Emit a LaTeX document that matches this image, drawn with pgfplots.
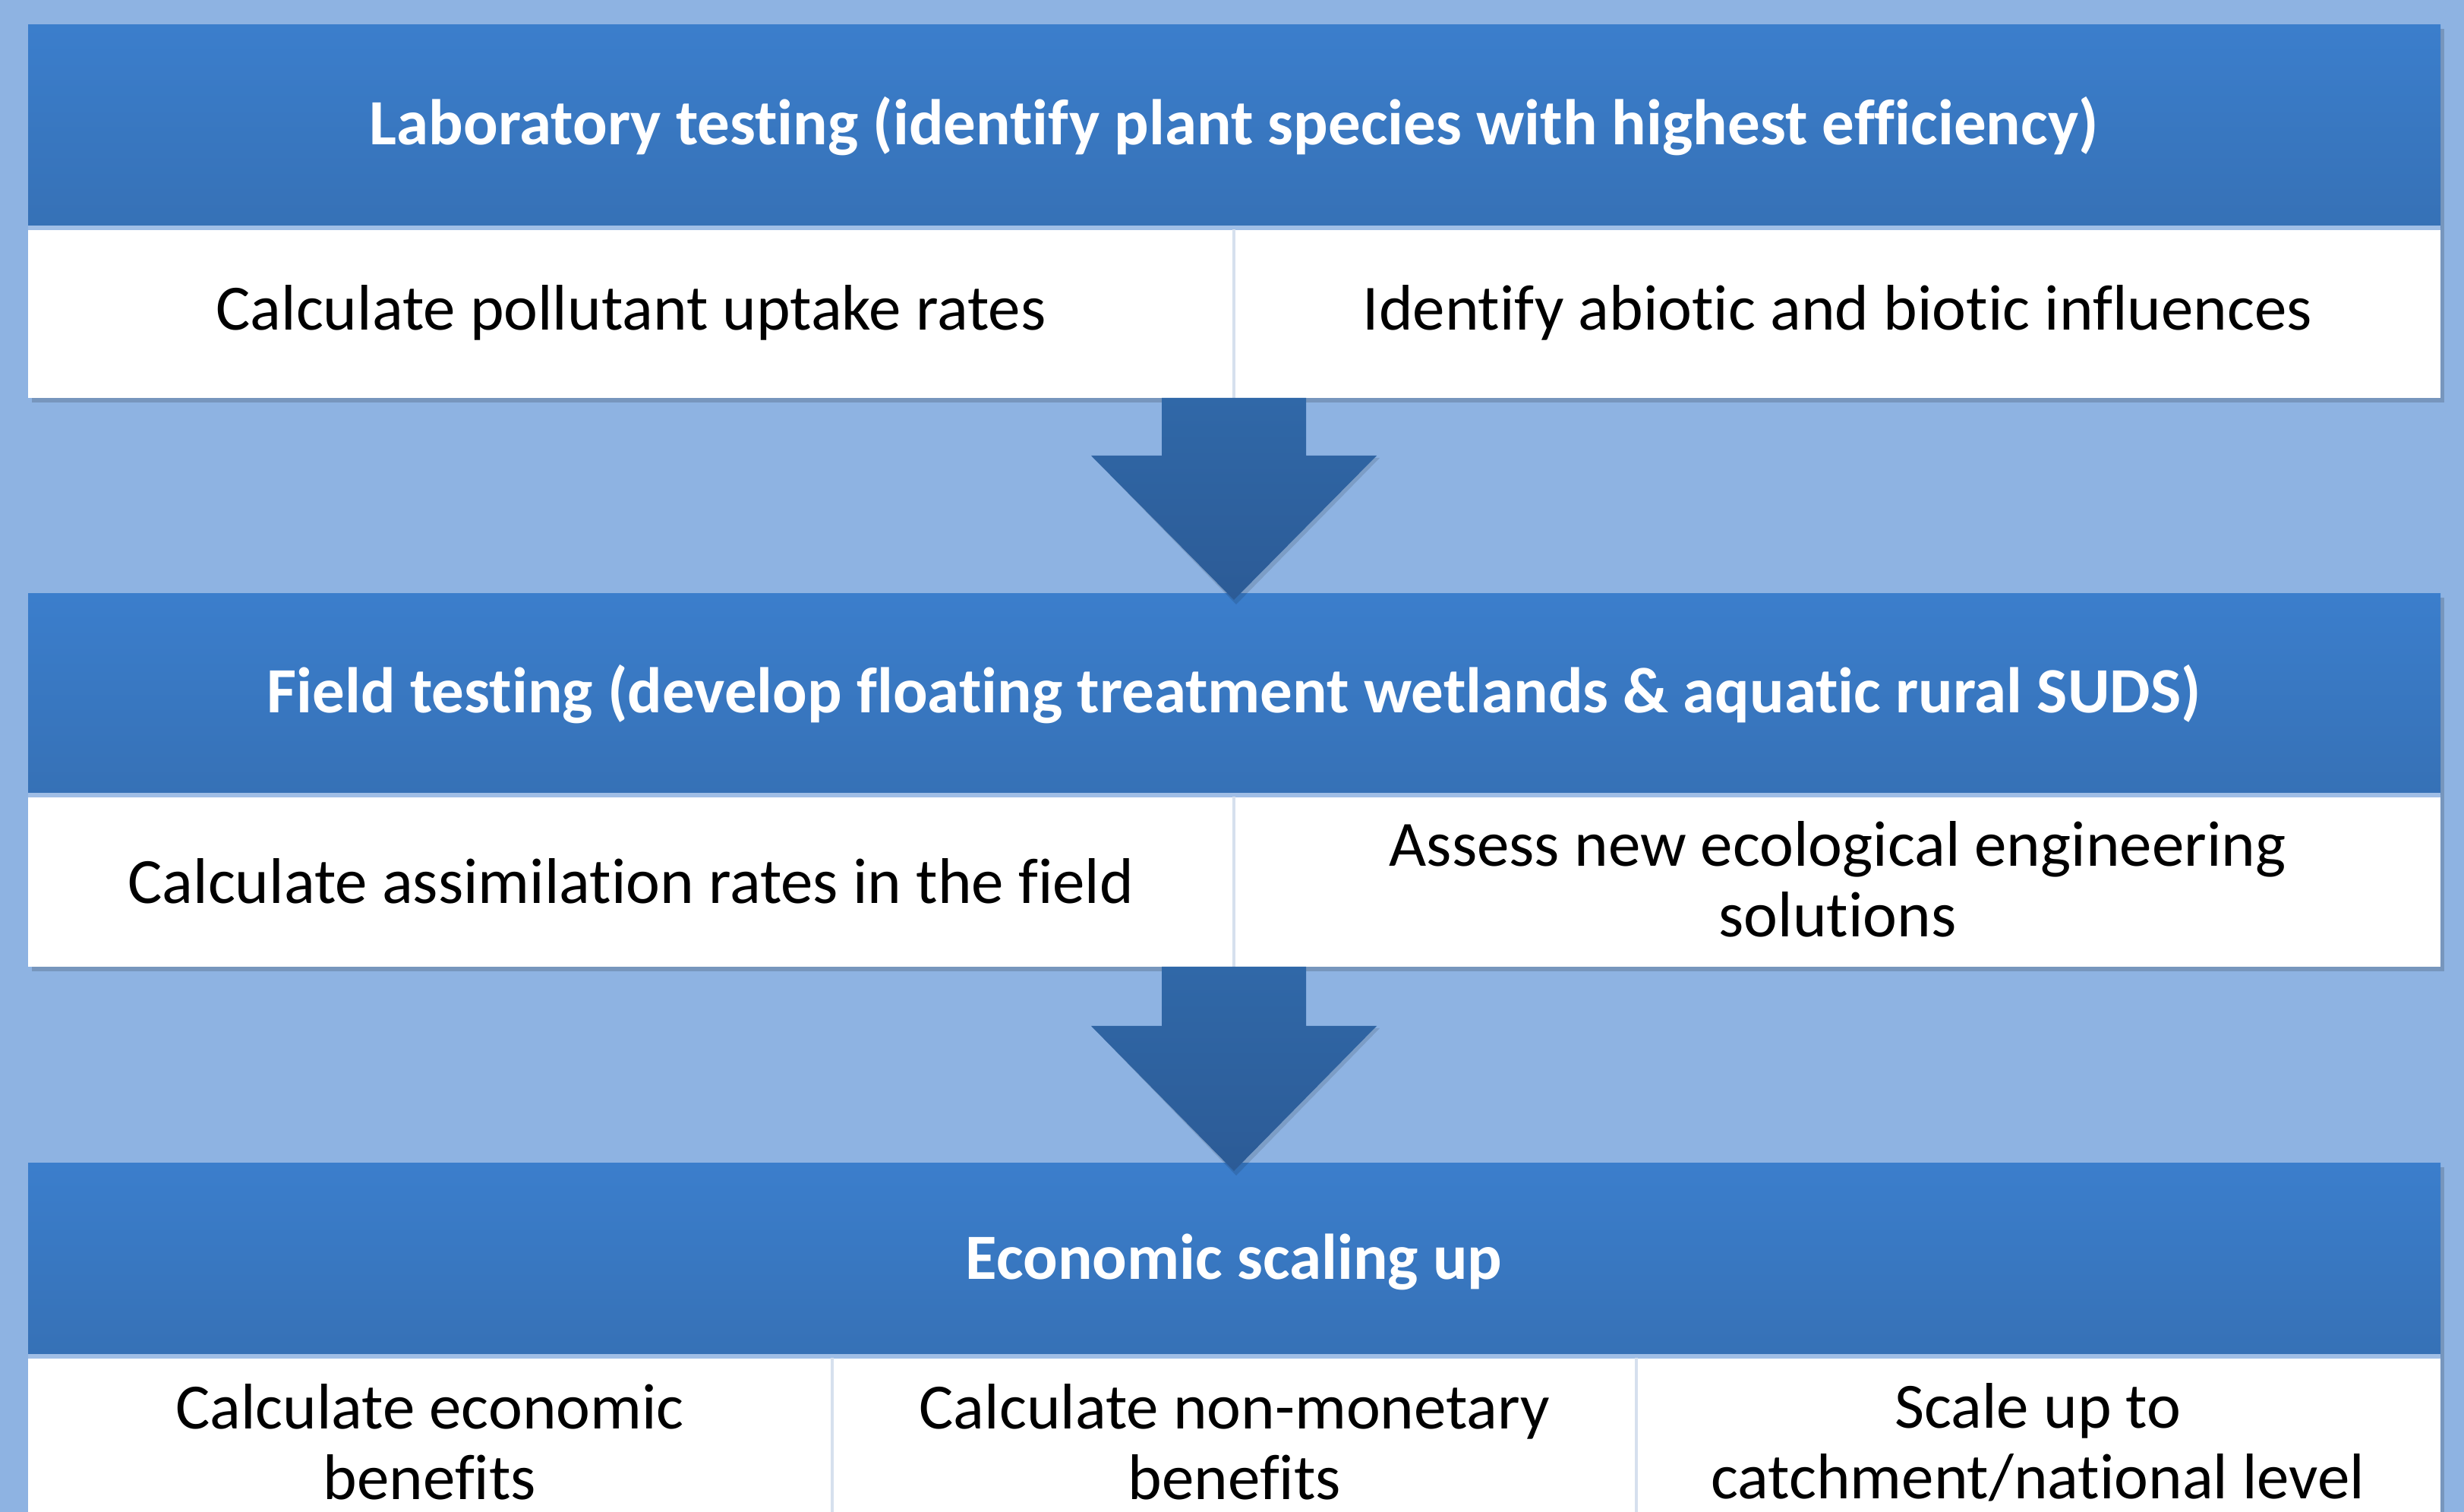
\documentclass[border=0pt]{standalone}
\usepackage{fontspec}
\setmainfont[RawFeature={-liga;-clig;-calt;-dlig}]{Carlito}
\usepackage{pgfplots}
\pgfplotsset{compat=1.18}
\definecolor{bg}{RGB}{142,179,226}
\definecolor{hdtop}{RGB}{59,126,204}
\definecolor{hdbot}{RGB}{54,113,182}
\definecolor{artop}{RGB}{48,104,168}
\definecolor{arbot}{RGB}{44,91,150}
\definecolor{divl}{RGB}{214,224,238}
\definecolor{sepl}{RGB}{160,190,230}
\begin{document}
\begin{tikzpicture}
\begin{axis}[
  width=649pt, height=398.2pt, scale only axis,
  xmin=0, xmax=3245, ymin=0, ymax=1991, y dir=reverse,
  axis lines=none, ticks=none, clip=true,
]
% background
\addplot[fill=bg, draw=none, mark=none] coordinates {(0,0)(3245,0)(3245,1991)(0,1991)} -- cycle;

% shadows of the three boxes
\addplot[fill=black, fill opacity=0.16, draw=none, mark=none] coordinates {(42,38)(3219,38)(3219,530)(42,530)} -- cycle;
\addplot[fill=black, fill opacity=0.16, draw=none, mark=none] coordinates {(42,787)(3219,787)(3219,1279)(42,1279)} -- cycle;
\addplot[fill=black, fill opacity=0.16, draw=none, mark=none] coordinates {(42,1537)(3219,1537)(3219,1991)(42,1991)} -- cycle;

% box 1
\addplot[draw=none, top color=hdtop, bottom color=hdbot, mark=none] coordinates {(37,33)(3214,33)(3214,300)(37,300)} -- cycle;
\addplot[fill=white, draw=none, mark=none] coordinates {(37,300)(3214,300)(3214,524)(37,524)} -- cycle;
\addplot[sepl, line width=1.2pt, mark=none] coordinates {(37,300)(3214,300)};
\addplot[divl, line width=0.8pt, mark=none] coordinates {(1625,302)(1625,524)};

% box 2
\addplot[draw=none, top color=hdtop, bottom color=hdbot, mark=none] coordinates {(37,782)(3214,782)(3214,1047)(37,1047)} -- cycle;
\addplot[fill=white, draw=none, mark=none] coordinates {(37,1047)(3214,1047)(3214,1273)(37,1273)} -- cycle;
\addplot[sepl, line width=1.2pt, mark=none] coordinates {(37,1047)(3214,1047)};
\addplot[divl, line width=0.8pt, mark=none] coordinates {(1625,1049)(1625,1273)};

% box 3
\addplot[draw=none, top color=hdtop, bottom color=hdbot, mark=none] coordinates {(37,1532)(3214,1532)(3214,1786)(37,1786)} -- cycle;
\addplot[fill=white, draw=none, mark=none] coordinates {(37,1786)(3214,1786)(3214,1991)(37,1991)} -- cycle;
\addplot[sepl, line width=1.2pt, mark=none] coordinates {(37,1786)(3214,1786)};
\addplot[divl, line width=0.8pt, mark=none] coordinates {(1096,1788)(1096,1991)};
\addplot[divl, line width=0.8pt, mark=none] coordinates {(2155,1788)(2155,1991)};

% arrow shadows (soft)
\addplot[fill=black, fill opacity=0.12, draw=none, mark=none] coordinates {(1817,603)(1628,796)(1440,603)} -- cycle;
\addplot[fill=black, fill opacity=0.12, draw=none, mark=none] coordinates {(1817,1354)(1628,1548)(1440,1354)} -- cycle;
% arrows
\addplot[draw=none, top color=artop, bottom color=arbot, mark=none] coordinates {(1530,524)(1720,524)(1720,600)(1813,600)(1625,790)(1437,600)(1530,600)} -- cycle;
\addplot[draw=none, top color=artop, bottom color=arbot, mark=none] coordinates {(1530,1273)(1720,1273)(1720,1351)(1813,1351)(1625,1542)(1437,1351)(1530,1351)} -- cycle;

% texts
\node[text=white, font=\bfseries\fontsize{17.0}{18.6}\selectfont] at (axis cs:1625,166) {Laboratory testing (identify plant species with highest efficiency)};
\node[font=\fontsize{17.0}{18.6}\selectfont] at (axis cs:831,412) {Calculate pollutant uptake rates};
\node[font=\fontsize{17.0}{18.6}\selectfont] at (axis cs:2420,412) {Identify abiotic and biotic influences};

\node[text=white, font=\bfseries\fontsize{17.0}{18.6}\selectfont] at (axis cs:1625,914) {Field testing (develop floating treatment wetlands \& aquatic rural SUDS)};
\node[font=\fontsize{17.0}{18.6}\selectfont] at (axis cs:831,1160) {Calculate assimilation rates in the field};
\node[font=\fontsize{17.0}{18.6}\selectfont, align=center] at (axis cs:2420,1158) {Assess new ecological engineering\\solutions};

\node[text=white, font=\bfseries\fontsize{17.0}{18.6}\selectfont] at (axis cs:1625,1662) {Economic scaling up};
\node[font=\fontsize{17.0}{18.6}\selectfont, align=center] at (axis cs:566,1899) {Calculate economic\\benefits};
\node[font=\fontsize{17.0}{18.6}\selectfont, align=center] at (axis cs:1626,1899) {Calculate non-monetary\\benefits};
\node[font=\fontsize{17.0}{18.6}\selectfont, align=center] at (axis cs:2684,1899) {Scale up to\\catchment/national level};
\end{axis}
\end{tikzpicture}
\end{document}
